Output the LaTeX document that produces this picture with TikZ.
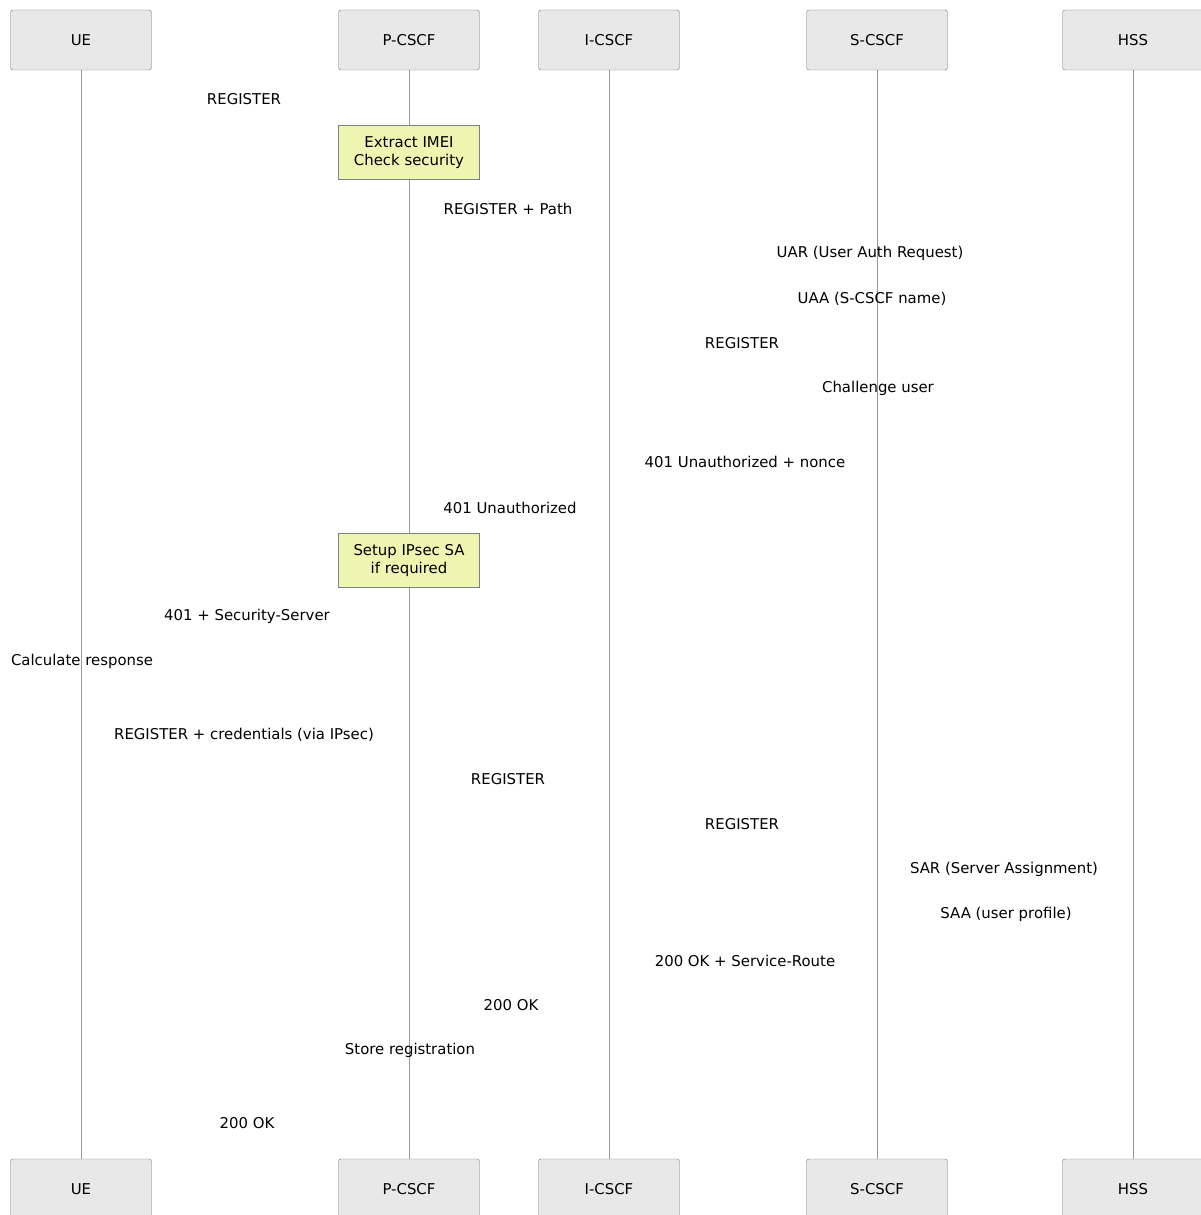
\documentclass[tikz,border=0pt]{standalone}
\usepackage{fontspec}
\setmainfont{DejaVu Sans}
\definecolor{notefill}{HTML}{EEF5B0}
\definecolor{boxfill}{HTML}{E8E8E8}
\begin{document}
\begin{tikzpicture}[x=1pt,y=-1pt,
				font=\fontsize{14.9}{18}\selectfont,
				actor/.style={rectangle,rounded corners=2.5pt,draw=black!55,fill=boxfill,minimum width=141pt,minimum height=60pt,inner sep=0pt},
				note/.style={rectangle,draw=black!50,fill=notefill,minimum width=141pt,minimum height=54pt,align=center,inner sep=0pt,text depth=1.5pt},
				life/.style={draw=black!40,line width=0.8pt},
				msg/.style={inner sep=0pt,yshift=-1.5pt}]
\useasboundingbox (0,0) rectangle (1201,1215);
% participants, top and bottom
\node[actor] (ue)    at (81,40)   {UE};
\node[actor] (pcscf) at (409,40)  {P-CSCF};
\node[actor] (icscf) at (609,40)  {I-CSCF};
\node[actor] (scscf) at (877,40)  {S-CSCF};
\node[actor] (hss)   at (1133,40) {HSS};
\node[actor] (ueB)    at (81,1189)   {UE};
\node[actor] (pcscfB) at (409,1189)  {P-CSCF};
\node[actor] (icscfB) at (609,1189)  {I-CSCF};
\node[actor] (scscfB) at (877,1189)  {S-CSCF};
\node[actor] (hssB)   at (1133,1189) {HSS};
% lifelines
\draw[life] (ue) -- (ueB);
\draw[life] (pcscf) -- (pcscfB);
\draw[life] (icscf) -- (icscfB);
\draw[life] (scscf) -- (scscfB);
\draw[life] (hss) -- (hssB);
% notes
\node[note] (extract) at (409,152) {Extract IMEI\\Check security};
\node[note] (ipsec)   at (409,560) {Setup IPsec SA\\if required};
% messages
\node[msg] (reg1)     at (244,98)   {REGISTER};
\node[msg] (regpath)  at (508,207)  {REGISTER + Path};
\node[msg] (uar)      at (870,252)  {UAR (User Auth Request)};
\node[msg] (uaa)      at (872,297)  {UAA (S-CSCF name)};
\node[msg] (reg2)     at (742,342)  {REGISTER};
\node[msg] (chal)     at (878,387)  {Challenge user};
\node[msg] (unauthn)  at (745,460)  {401 Unauthorized + nonce};
\node[msg] (unauth)   at (510,506)  {401 Unauthorized};
\node[msg] (secsrv)   at (247,615)  {401 + Security-Server};
\node[msg] (calc)     at (82,660)   {Calculate response};
\node[msg] (regcred)  at (244,733)  {REGISTER + credentials (via IPsec)};
\node[msg] (reg3)     at (508,778)  {REGISTER};
\node[msg] (reg4)     at (742,823)  {REGISTER};
\node[msg] (sar)      at (1004,868) {SAR (Server Assignment)};
\node[msg] (saa)      at (1006,913) {SAA (user profile)};
\node[msg] (okroute)  at (745,959)  {200 OK + Service-Route};
\node[msg] (ok1)      at (511,1004) {200 OK};
\node[msg] (store)    at (410,1049) {Store registration};
\node[msg] (ok2)      at (247,1122) {200 OK};
\end{tikzpicture}
\end{document}
